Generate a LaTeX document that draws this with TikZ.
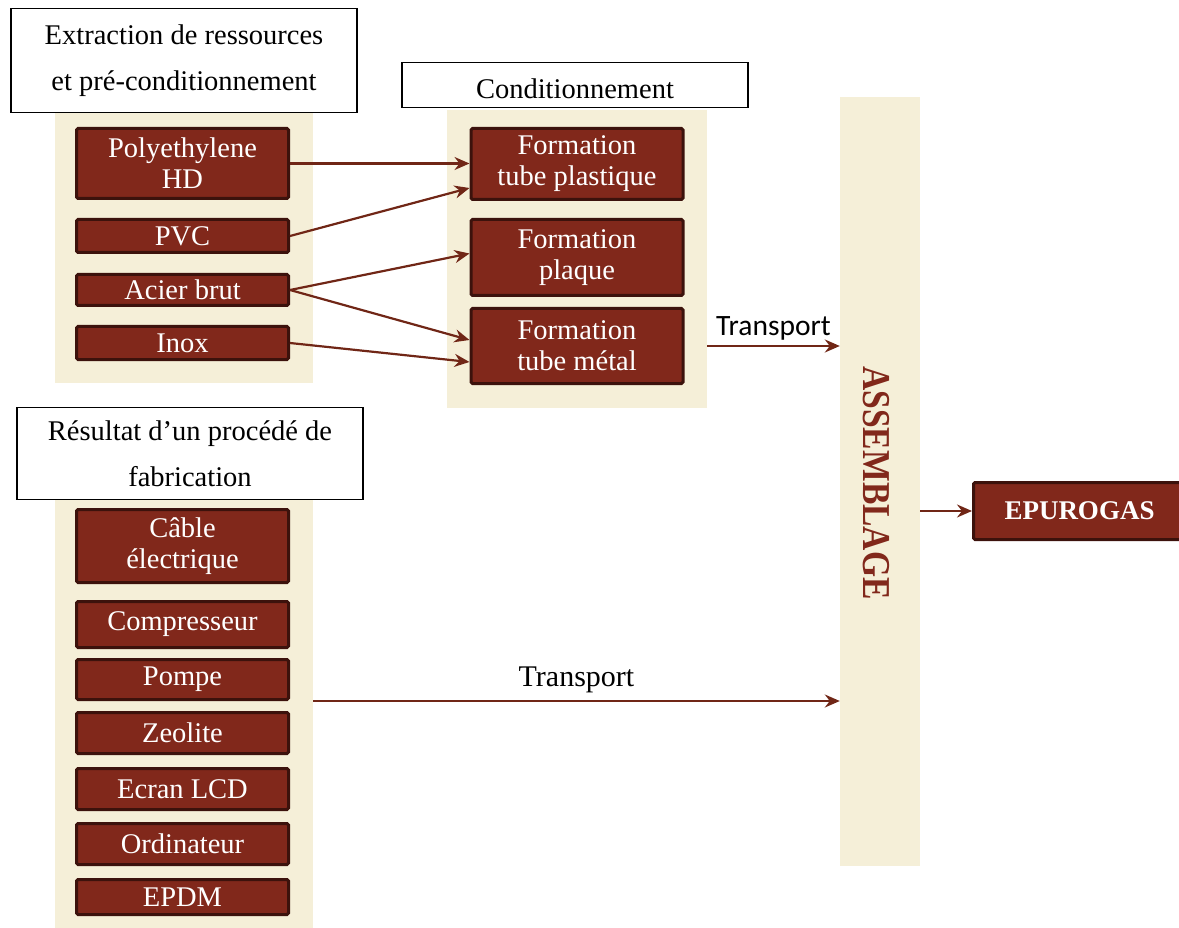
\documentclass[tikz,border=0pt]{standalone}
\usepackage{fontspec}
\setmainfont{Liberation Serif}
\newfontfamily\calibrisans{Carlito}
\usetikzlibrary{arrows.meta, positioning}
\definecolor{brickred}{RGB}{129,40,27}
\definecolor{brickdark}{RGB}{60,18,12}
\definecolor{sandbg}{RGB}{245,239,216}
\definecolor{flowbrown}{RGB}{112,38,22}

\begin{document}
\begin{tikzpicture}[x=1pt, y=-1pt,
  panel/.style={fill=sandbg, draw=none, inner sep=0pt},
  headbox/.style={draw=black, line width=1.5pt, fill=white, minimum width=346pt, align=center, inner sep=0pt, font=\fontsize{28.5}{46}\selectfont},
  matbox/.style={draw=brickdark, line width=3pt, fill=brickred, rounded corners=1.5pt, text=white, align=center, minimum width=212pt, inner sep=0pt, font=\fontsize{28.5}{31}\selectfont},
  flow/.style={draw=flowbrown, line width=2.2pt, -{Stealth[length=15pt, width=13pt, inset=5pt]}}
]
  \useasboundingbox (0,0) rectangle (1179,928);

  \node[panel, minimum width=258pt, minimum height=270pt] (rawpanel) at (184,248) {};
  \node[panel, minimum width=260pt, minimum height=298pt] (condpanel) at (577,259) {};
  \node[panel, minimum width=258pt, minimum height=428pt] (partpanel) at (184,714) {};
  \node[panel, minimum width=80pt, minimum height=769pt] (asm) at (880,481.5) {};

  \node[headbox, minimum height=104pt] (rawhead) at (184,60.5) {Extraction de ressources\\et pré-conditionnement};
  \node[headbox, minimum height=45pt, text height=27pt] (condhead) at (575,85) {Conditionnement};
  \node[headbox, minimum height=92pt] (parthead) at (190,453.5) {Résultat d’un procédé de\\fabrication};

  \node[matbox, minimum height=70pt] (pehd) at (182.5,163.5) {Polyethylene\\HD};
  \node[matbox, minimum height=33pt] (pvc) at (182.5,236) {PVC};
  \node[matbox, minimum height=31pt] (acier) at (182.5,290) {Acier brut};
  \node[matbox, minimum height=33pt] (inox) at (182.5,343) {Inox};

  \node[matbox, minimum height=71pt] (tubeplast) at (577,164) {Formation\\tube plastique};
  \node[matbox, minimum height=76pt] (plaque) at (577,257.5) {Formation\\plaque};
  \node[matbox, minimum height=75pt] (tubemetal) at (577,346) {Formation\\tube métal};

  \node[matbox, minimum height=73pt] (cable) at (182.5,546) {Câble\\électrique};
  \node[matbox, minimum height=46pt] (compress) at (182.5,624.5) {Compresseur};
  \node[matbox, minimum height=40pt] (pompe) at (182.5,679.5) {Pompe};
  \node[matbox, minimum height=41pt] (zeolite) at (182.5,733) {Zeolite};
  \node[matbox, minimum height=41pt] (ecran) at (182.5,789) {Ecran LCD};
  \node[matbox, minimum height=41pt] (ordi) at (182.5,844) {Ordinateur};
  \node[matbox, minimum height=35pt] (epdm) at (182.5,897) {EPDM};

  \node[rotate=-90, text=brickred, font=\fontsize{39.5}{40}\selectfont\bfseries] (asmtext) at (876,483) {\scalebox{0.85}[1]{ASSEMBLAGE}};
  \node[matbox, minimum height=57pt, font=\fontsize{27}{31}\selectfont\bfseries] (epurogas) at (1079.5,511) {EPUROGAS};

  \draw[flow] (pehd.east) -- (pehd.east -| tubeplast.west);
  \draw[flow] (pvc.east) -- ([yshift=-24pt]tubeplast.west);
  \draw[flow] (acier.east) -- ([yshift=4pt]plaque.west);
  \draw[flow] (acier.east) -- ([yshift=6pt]tubemetal.west);
  \draw[flow] (inox.east) -- ([yshift=-16pt]tubemetal.west);

  \draw[flow] (tubemetal -| condpanel.east) -- (tubemetal -| asm.west)
    node[midway, above=1pt, text=black, font=\calibrisans\fontsize{29.5}{30}\selectfont] {Transport};
  \draw[flow] (pompe.south -| partpanel.east) -- (pompe.south -| asm.west)
    node[midway, above=4pt, text=black, font=\fontsize{30}{30}\selectfont] {Transport};
  \draw[flow] (asm.east |- epurogas.west) -- (epurogas.west);
\end{tikzpicture}
\end{document}
